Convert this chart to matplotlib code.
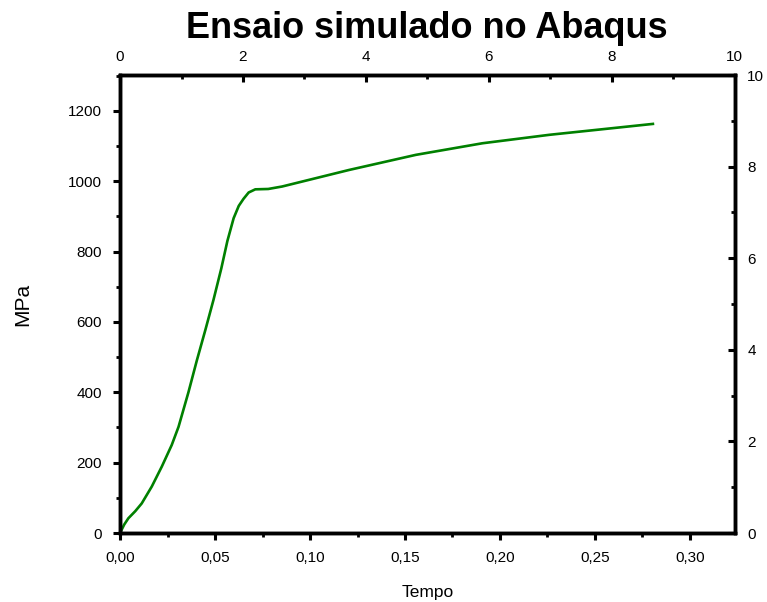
import numpy as np
import matplotlib.pyplot as plt
from matplotlib.ticker import FuncFormatter, MultipleLocator

# curve (tempo, MPa)
tempo = [0.0, 0.0022, 0.0044, 0.008, 0.0114, 0.0167, 0.022, 0.0272, 0.0308,
         0.036, 0.0404, 0.0449, 0.0492, 0.0533, 0.0565, 0.0598, 0.0625,
         0.065, 0.0677, 0.0712, 0.078, 0.0853, 0.1205, 0.1557, 0.1908,
         0.226, 0.2612, 0.2805]
tensao = [0, 24, 42, 62, 84, 132, 189, 250, 302,
          400, 490, 577, 663, 752, 830, 895, 930,
          950, 968, 977, 978, 985, 1032, 1075, 1108,
          1132, 1152, 1163]

x_ticks = [0.0, 0.05, 0.10, 0.15, 0.20, 0.25, 0.30]
y_ticks = [0, 200, 400, 600, 800, 1000, 1200]
aux_ticks = [0, 2, 4, 6, 8, 10]

plt.rcParams['font.family'] = ['Liberation Sans', 'DejaVu Sans']

fig = plt.figure(figsize=(7.67, 6.02), dpi=100)
ax = fig.add_axes([0.1565, 0.1146, 0.8015, 0.7608])

ax.plot(tempo, tensao, color='#008000', lw=1.9)
ax.set_xlim(0, 0.3236)
ax.set_ylim(0, 1302)
ax.set_xticks(x_ticks)
ax.set_yticks(y_ticks)
ax.xaxis.set_minor_locator(MultipleLocator(0.025))
ax.yaxis.set_minor_locator(MultipleLocator(100))
ax.xaxis.set_major_formatter(FuncFormatter(lambda v, p: f'{v:.2f}'.replace('.', ',')))
ax.tick_params(which='major', direction='out', length=5, width=2.2, labelsize=11, pad=8)
ax.tick_params(which='minor', direction='out', length=3, width=2)
ax.set_xlabel('Tempo', fontsize=12.5, labelpad=14)
ax.set_ylabel('MPa', fontsize=15, labelpad=26)
for s in ax.spines.values():
    s.set_linewidth(2.4)

# auxiliary scales on top and right
ax_top = ax.twiny()
ax_top.set_xlim(0, 10)
ax_top.set_xticks(aux_ticks)
ax_top.xaxis.set_minor_locator(MultipleLocator(1))
ax_top.tick_params(which='major', direction='in', length=5, width=2.2, labelsize=11, pad=8)
ax_top.tick_params(which='minor', direction='in', length=3, width=2)

ax_right = ax.twinx()
ax_right.set_ylim(0, 10)
ax_right.set_yticks(aux_ticks)
ax_right.yaxis.set_minor_locator(MultipleLocator(1))
ax_right.tick_params(which='major', direction='in', length=5, width=2.2, labelsize=11, pad=9)
ax_right.tick_params(which='minor', direction='in', length=3, width=2)

for a in (ax_top, ax_right):
    for s in a.spines.values():
        s.set_linewidth(2.4)

fig.text(0.557, 0.953, 'Ensaio simulado no Abaqus', ha='center', va='center',
         fontsize=26, fontweight='bold')

fig.savefig('out.png', dpi=100)
